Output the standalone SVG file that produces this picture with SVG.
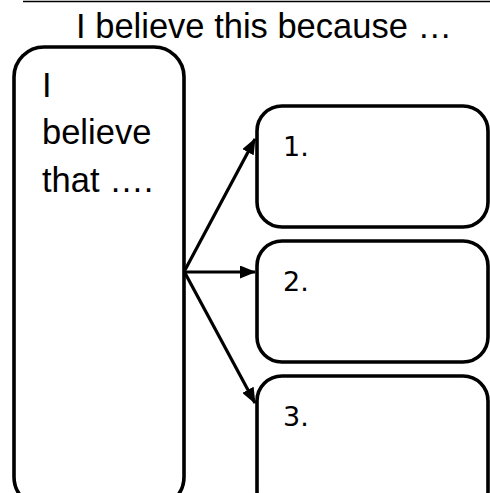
<svg xmlns="http://www.w3.org/2000/svg" width="490" height="493" viewBox="0 0 490 493">
<style>
.box{fill:#fff;stroke:#000;stroke-width:3.6}
.big{font-family:"Liberation Sans",Arial,sans-serif;font-size:34.5px;fill:#000}
.num{font-family:"DejaVu Sans",Verdana,sans-serif;font-size:27px;fill:#000}
.conn{stroke:#000;stroke-width:3.2;fill:none}
</style>
<defs>
<marker id="ah" markerUnits="userSpaceOnUse" markerWidth="16" markerHeight="13" refX="15" refY="6.5" orient="auto">
<path d="M0,0 L16,6.5 L0,13 Z" fill="#000"/>
</marker>
</defs>
<rect width="490" height="493" fill="#fff"/>
<line x1="23" y1="1.5" x2="490" y2="1.5" stroke="#000" stroke-width="1.5"/>
<text class="big" x="264" y="38" text-anchor="middle">I believe this because …</text>
<g id="main">
<rect class="box" x="14" y="47" width="170" height="460" rx="30" ry="30"/>
<text class="big"><tspan x="42" y="97">I</tspan><tspan x="42" y="144">believe</tspan><tspan x="42" y="192">that ….</tspan></text>
</g>
<g id="reason1">
<rect class="box" x="257" y="106" width="231" height="121" rx="25" ry="25"/>
<text class="num" x="283" y="156">1.</text>
</g>
<g id="reason2">
<rect class="box" x="257" y="241" width="231" height="121" rx="25" ry="25"/>
<text class="num" x="283" y="291">2.</text>
</g>
<g id="reason3">
<rect class="box" x="257" y="376" width="231" height="140" rx="25" ry="25"/>
<text class="num" x="283" y="426">3.</text>
</g>
<g id="connectors">
<line class="conn" x1="185" y1="270" x2="255" y2="139" marker-end="url(#ah)"/>
<line class="conn" x1="185" y1="272" x2="255" y2="272" marker-end="url(#ah)"/>
<line class="conn" x1="185" y1="273" x2="255" y2="403" marker-end="url(#ah)"/>
</g>
</svg>
